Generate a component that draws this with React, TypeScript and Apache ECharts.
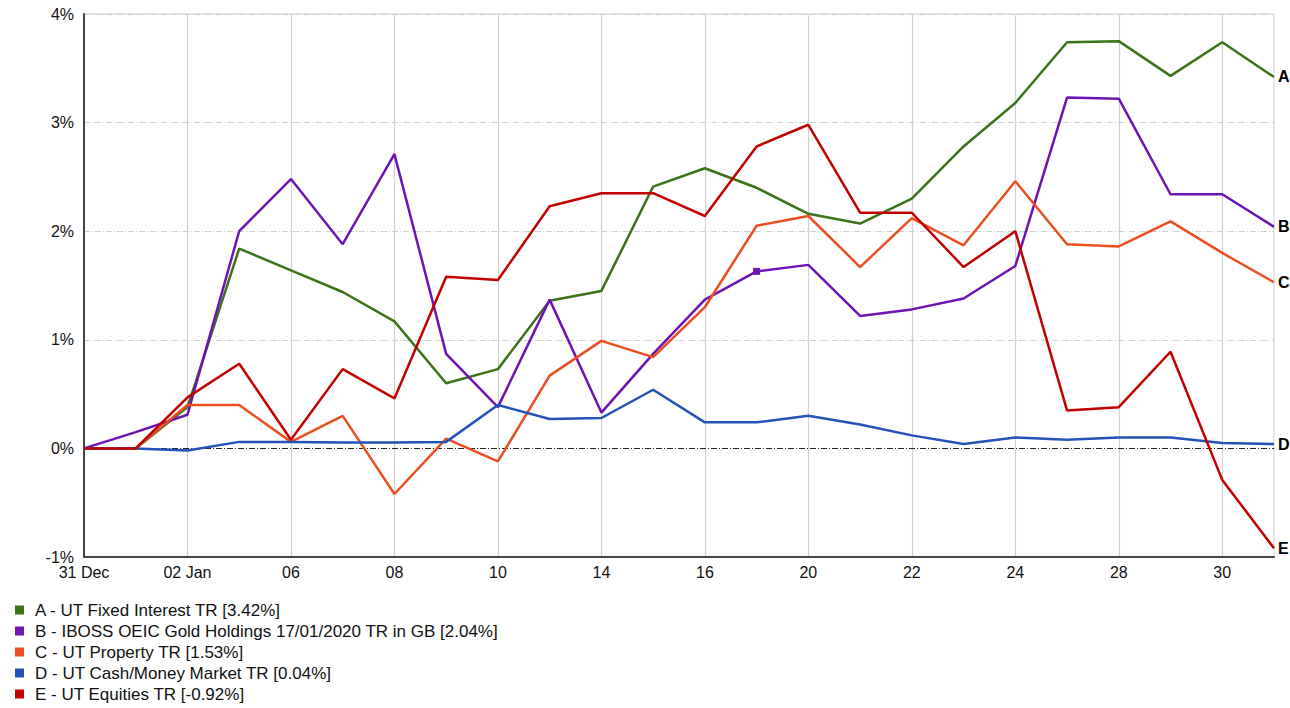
import React, { useEffect, useRef } from "react";
import * as echarts from "echarts";

const categories = ["31 Dec","01 Jan","02 Jan","03","06","07","08","09","10","13","14","15","16","17","20","21","22","23","24","27","28","29","30","31"];
const yTicks = [-1, 0, 1, 2, 3, 4];

const seriesA = [0, 0, 0.38, 1.84, 1.64, 1.44, 1.17, 0.60, 0.73, 1.36, 1.45, 2.41, 2.58, 2.40, 2.16, 2.07, 2.30, 2.78, 3.18, 3.74, 3.75, 3.43, 3.74, 3.42];
const seriesB = [0, 0.15, 0.31, 2.00, 2.48, 1.88, 2.71, 0.87, 0.38, 1.37, 0.33, 0.87, 1.37, 1.63, 1.69, 1.22, 1.28, 1.38, 1.68, 3.23, 3.22, 2.34, 2.34, 2.04];
const seriesC = [0, 0, 0.40, 0.40, 0.06, 0.30, -0.42, 0.09, -0.12, 0.67, 0.99, 0.84, 1.30, 2.05, 2.14, 1.67, 2.12, 1.87, 2.46, 1.88, 1.86, 2.09, 1.80, 1.53];
const seriesD = [0, 0, -0.02, 0.06, 0.06, 0.055, 0.055, 0.06, 0.40, 0.27, 0.28, 0.54, 0.24, 0.24, 0.30, 0.22, 0.12, 0.04, 0.10, 0.08, 0.10, 0.10, 0.05, 0.04];
const seriesE = [0, 0, 0.47, 0.78, 0.08, 0.73, 0.46, 1.58, 1.55, 2.23, 2.35, 2.35, 2.14, 2.78, 2.98, 2.17, 2.17, 1.67, 2.00, 0.35, 0.38, 0.89, -0.29, -0.92];

const seriesNames = [
  "A - UT Fixed Interest TR [3.42%]",
  "B - IBOSS OEIC Gold Holdings 17/01/2020 TR in GB [2.04%]",
  "C - UT Property TR [1.53%]",
  "D - UT Cash/Money Market TR [0.04%]",
  "E - UT Equities TR [-0.92%]",
];
const endLetters = ["A", "B", "C", "D", "E"];
const colors = ["#3a7318", "#6e14b4", "#ec4e22", "#2452b8", "#c20000"];
const markerIndexB = 13;

const FONT = "'Liberation Sans', Arial, sans-serif";

export default function App() {
  const ref = useRef<HTMLDivElement>(null);
  useEffect(() => {
    if (!ref.current) return;
    const chart = echarts.init(ref.current, undefined, { renderer: "svg" });
    const allData = [seriesA, seriesB, seriesC, seriesD, seriesE];
    const series: any[] = allData.map((d, k) => {
      const data =
        k === 1
          ? d.map((v, i) =>
              i === markerIndexB ? { value: v, symbol: "rect", symbolSize: 7 } : v
            )
          : d;
      const s: any = {
        name: seriesNames[k],
        type: "line",
        data,
        symbol: "none",
        lineStyle: { color: colors[k], width: 2.5 },
        itemStyle: { color: colors[k] },
        z: 3 + k,
        endLabel: {
          show: true,
          formatter: endLetters[k],
          color: "#000",
          fontWeight: "bold",
          fontSize: 16,
          fontFamily: FONT,
          distance: 4,
        },
      };
      if (k === 3) {
        s.markLine = {
          silent: true,
          symbol: "none",
          label: { show: false },
          lineStyle: { color: "#222", width: 1, type: [6, 2, 1, 2] },
          data: [{ yAxis: 0 }],
          z: 2,
        };
      }
      return s;
    });
    chart.setOption({
      animation: false,
      backgroundColor: "#fff",
      grid: {
        left: 84,
        top: 14,
        right: 16,
        bottom: 151,
        show: true,
        borderColor: "#cfcfcf",
        borderWidth: 1,
      },
      legend: {
        orient: "vertical",
        left: 15,
        top: 601,
        padding: 0,
        icon: "rect",
        itemWidth: 9,
        itemHeight: 9,
        itemGap: 3,
        data: seriesNames,
        textStyle: {
          color: "#111",
          fontSize: 17,
          fontFamily: FONT,
          lineHeight: 18,
          padding: [0, 0, 0, 6],
        },
      },
      xAxis: {
        type: "category",
        data: categories,
        boundaryGap: false,
        axisLine: { show: true, onZero: false, lineStyle: { color: "#444", width: 2 } },
        axisTick: { show: false },
        axisLabel: {
          interval: 1,
          color: "#111",
          fontSize: 16,
          fontFamily: FONT,
          margin: 7,
        },
        splitLine: { show: true, interval: 1, lineStyle: { color: "#d2d2d2", width: 1.2 } },
      },
      yAxis: {
        type: "value",
        min: yTicks[0],
        max: yTicks[yTicks.length - 1],
        interval: 1,
        axisLine: { show: true, lineStyle: { color: "#444", width: 2 } },
        axisTick: { show: false },
        axisLabel: {
          formatter: "{value}%",
          color: "#111",
          fontSize: 16,
          fontFamily: FONT,
          margin: 10,
        },
        splitLine: { show: true, lineStyle: { color: "#cfcfcf", width: 1, type: [6, 2, 1, 2] } },
      },
      series,
    });
    return () => chart.dispose();
  }, []);
  return (
    <div
      ref={ref}
      style={{ position: "fixed", left: 0, top: 0, width: 1290, height: 708, background: "#fff" }}
    />
  );
}
